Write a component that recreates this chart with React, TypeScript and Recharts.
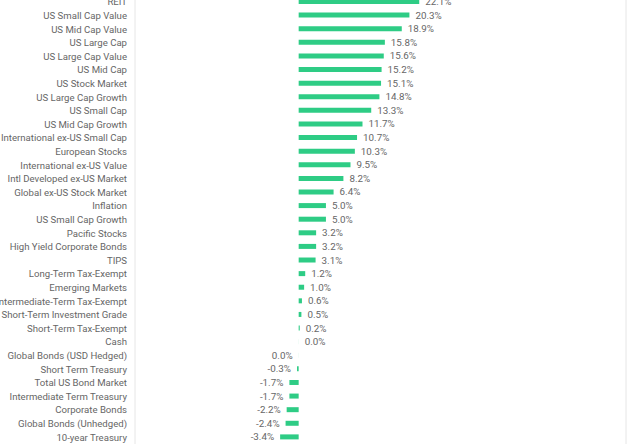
import { BarChart, Bar, XAxis, YAxis, CartesianGrid, LabelList } from "recharts";

const assets = [
  "REIT", "US Small Cap Value", "US Mid Cap Value", "US Large Cap", "US Large Cap Value",
  "US Mid Cap", "US Stock Market", "US Large Cap Growth", "US Small Cap", "US Mid Cap Growth",
  "International ex-US Small Cap", "European Stocks", "International ex-US Value",
  "Intl Developed ex-US Market", "Global ex-US Stock Market", "Inflation", "US Small Cap Growth",
  "Pacific Stocks", "High Yield Corporate Bonds", "TIPS", "Long-Term Tax-Exempt",
  "Emerging Markets", "Intermediate-Term Tax-Exempt", "Short-Term Investment Grade",
  "Short-Term Tax-Exempt", "Cash", "Global Bonds (USD Hedged)", "Short Term Treasury",
  "Total US Bond Market", "Intermediate Term Treasury", "Corporate Bonds",
  "Global Bonds (Unhedged)", "10-year Treasury",
];

// returns in %; Cash and Global Bonds (USD Hedged) both show as 0.0%
const returns = [
  22.1, 20.3, 18.9, 15.8, 15.6, 15.2, 15.1, 14.8, 13.3, 11.7,
  10.7, 10.3, 9.5, 8.2, 6.4, 5.0, 5.0, 3.2, 3.2, 3.1,
  1.2, 1.0, 0.6, 0.5, 0.2, 0.01, -0.01, -0.3, -1.7, -1.7,
  -2.2, -2.4, -3.4,
];

const gridTicks = [-30, -20, -10, 0, 10, 20, 30, 40, 50, 60];

const data = assets.map((name, i) => ({ name, value: returns[i] }));

const fmt = (v: number) => (Math.abs(v) < 0.05 ? "0.0" : v.toFixed(1)) + "%";

const FONT = "Roboto, sans-serif";

function ValueLabel(props: any) {
  const { x, y, width, height, value } = props;
  const neg = value < 0;
  const end = neg ? Math.min(x, x + width) : Math.max(x, x + width);
  return (
    <text
      x={neg ? end - 6 : end + 6}
      y={y + height / 2}
      dy={3.5}
      textAnchor={neg ? "end" : "start"}
      fontSize={9.8}
      fill="#666"
      fontFamily={FONT}
    >
      {fmt(value)}
    </text>
  );
}

function NameTick(props: any) {
  const { x, y, payload } = props;
  return (
    <text x={x} y={y} dy={3.5} textAnchor="end" fontSize={9.6} fill="#666" fontFamily={FONT}>
      {payload.value}
    </text>
  );
}

export default function App() {
  return (
    <div style={{ position: "fixed", left: 0, top: 0, width: 638, height: 445, overflow: "hidden", background: "#fff" }}>
      <div style={{ position: "absolute", left: 0, top: -5 }}>
        <BarChart
          width={638}
          height={470}
          data={data}
          layout="vertical"
          margin={{ top: 0, right: 12, bottom: 5, left: 0 }}
          barSize={5}
        >
          <CartesianGrid horizontal={false} stroke="#e6e6e6" />
          <XAxis
            type="number"
            domain={[-30, 60]}
            ticks={gridTicks}
            axisLine={false}
            tickLine={false}
            tick={false}
            height={16}
          />
          <YAxis
            type="category"
            dataKey="name"
            width={135}
            axisLine={false}
            tickLine={false}
            interval={0}
            tick={<NameTick />}
          />
          <Bar dataKey="value" fill="#2ecc85" isAnimationActive={false}>
            <LabelList dataKey="value" content={<ValueLabel />} />
          </Bar>
        </BarChart>
      </div>
    </div>
  );
}
